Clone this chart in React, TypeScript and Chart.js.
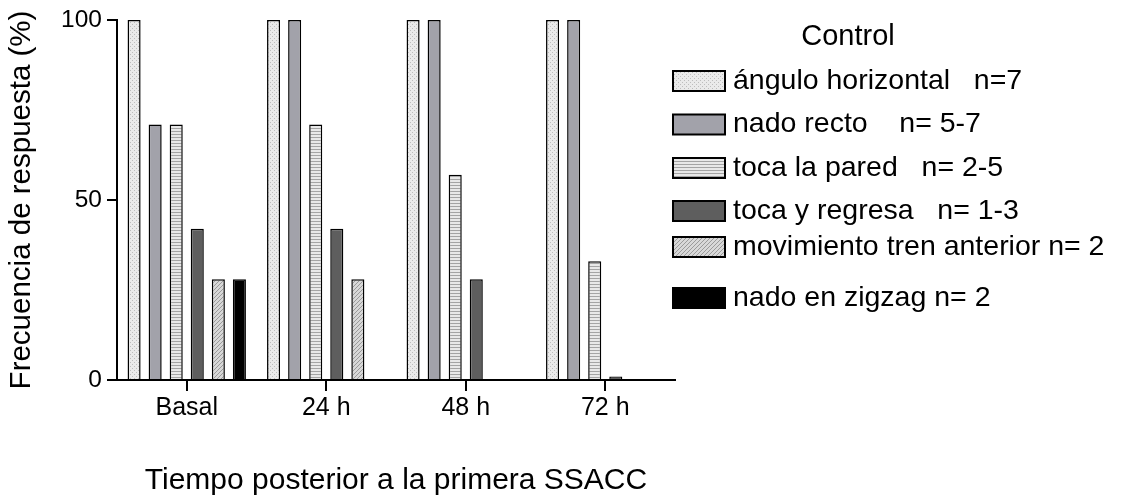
import React, { useEffect, useRef } from "react";
import { Chart, registerables } from "chart.js";

Chart.register(...registerables);

const categories = ["Basal", "24 h", "48 h", "72 h"];
const anguloHorizontal = [100, 100, 100, 100];
const nadoRecto = [71, 100, 100, 100];
const tocaPared = [71, 71, 57, 33];
const tocaRegresa = [42, 42, 28, 1];
const movimientoTren = [28, 28, 0, 0];
const nadoZigzag = [28, 0, 0, 0];

const seriesLabels = [
  "ángulo horizontal   n=7",
  "nado recto    n= 5-7",
  "toca la pared   n= 2-5",
  "toca y regresa   n= 1-3",
  "movimiento tren anterior n= 2",
  "nado en zigzag n= 2",
];
const legendTitle = "Control";
const xTitle = "Tiempo posterior a la primera SSACC";
const yTitle = "Frecuencia de respuesta (%)";

const FONT = "'Liberation Sans', Arial, sans-serif";
const legendRowTops = [71, 114.5, 158, 201, 237, 288];

function makePattern(kind: string): CanvasPattern | string {
  const c = document.createElement("canvas");
  const ctx = c.getContext("2d")!;
  if (kind === "dots") {
    c.width = 4; c.height = 4;
    ctx.fillStyle = "#eaeaea"; ctx.fillRect(0, 0, 4, 4);
    ctx.fillStyle = "#bdbdbd";
    ctx.fillRect(0, 0, 1, 1); ctx.fillRect(2, 2, 1, 1);
  } else if (kind === "stripes") {
    c.width = 3; c.height = 3;
    ctx.fillStyle = "#e8e8e8"; ctx.fillRect(0, 0, 3, 3);
    ctx.fillStyle = "#a4a4a4"; ctx.fillRect(0, 2, 3, 1);
  } else if (kind === "hatch") {
    c.width = 4; c.height = 4;
    ctx.fillStyle = "#d8d8d8"; ctx.fillRect(0, 0, 4, 4);
    ctx.fillStyle = "#9a9a9a";
    for (let i = 0; i < 4; i++) ctx.fillRect(i, 3 - i, 1, 1);
  }
  return ctx.createPattern(c, "repeat")!;
}

const legendPlugin = {
  id: "customLegend",
  afterDraw(chart: any) {
    const ctx = chart.ctx as CanvasRenderingContext2D;
    ctx.save();
    ctx.fillStyle = "#000";
    ctx.font = `29px ${FONT}`;
    ctx.textAlign = "center";
    ctx.textBaseline = "middle";
    ctx.fillText(legendTitle, 848, 37);
    ctx.textAlign = "left";
    chart.data.datasets.forEach((ds: any, i: number) => {
      const top = legendRowTops[i];
      ctx.fillStyle = ds.backgroundColor;
      ctx.fillRect(673, top, 52, 20);
      ctx.strokeStyle = "#000";
      ctx.lineWidth = 2;
      ctx.strokeRect(673, top, 52, 20);
      ctx.fillStyle = "#000";
      ctx.font = `28.5px ${FONT}`;
      ctx.fillText(ds.label, 733, top + 10);
    });
    ctx.restore();
  },
};

export default function App() {
  const ref = useRef<HTMLCanvasElement>(null);
  useEffect(() => {
    if (!ref.current) return;
    const fills = [
      makePattern("dots"),
      "#a2a2aa",
      makePattern("stripes"),
      "#5e5e5e",
      makePattern("hatch"),
      "#000000",
    ];
    const values = [anguloHorizontal, nadoRecto, tocaPared, tocaRegresa, movimientoTren, nadoZigzag];
    const chart = new Chart(ref.current, {
      type: "bar",
      data: {
        labels: categories,
        datasets: values.map((v, i) => ({
          label: seriesLabels[i],
          data: v,
          backgroundColor: fills[i] as any,
          borderColor: "#000",
          borderWidth: 1.5,
          categoryPercentage: 0.906,
          barPercentage: 0.62,
        })),
      },
      options: {
        animation: false,
        responsive: false,
        maintainAspectRatio: false,
        layout: { padding: { top: 20, right: 456, bottom: 0, left: 0 } },
        plugins: {
          legend: { display: false },
          tooltip: { enabled: false },
        },
        scales: {
          x: {
            type: "category",
            offset: true,
            grid: {
              offset: false,
              drawOnChartArea: false,
              drawTicks: true,
              tickLength: 11,
              color: "#000",
              lineWidth: 2,
            },
            border: { display: true, color: "#000", width: 2 },
            ticks: { color: "#000", font: { family: FONT, size: 25 }, padding: 2 },
            title: {
              display: true,
              text: xTitle,
              color: "#000",
              font: { family: FONT, size: 30 },
              padding: 0,
            },
            afterFit: (s: any) => { s.height = 119; },
          },
          y: {
            min: 0,
            max: 100,
            ticks: { stepSize: 50, color: "#000", font: { family: FONT, size: 24.5 }, padding: 5 },
            grid: {
              drawOnChartArea: false,
              drawTicks: true,
              tickLength: 10,
              color: "#000",
              lineWidth: 2,
            },
            border: { display: true, color: "#000", width: 2 },
            title: {
              display: true,
              text: yTitle,
              color: "#000",
              font: { family: FONT, size: 29.5 },
              padding: { top: 4, bottom: 0 },
            },
            afterFit: (s: any) => { s.width = 117; },
          },
        },
      },
      plugins: [legendPlugin],
    });
    return () => chart.destroy();
  }, []);
  return (
    <div style={{ position: "absolute", left: 0, top: 0, width: 1131, height: 499, background: "#fff" }}>
      <canvas ref={ref} width={1131} height={499} style={{ display: "block" }} />
    </div>
  );
}
